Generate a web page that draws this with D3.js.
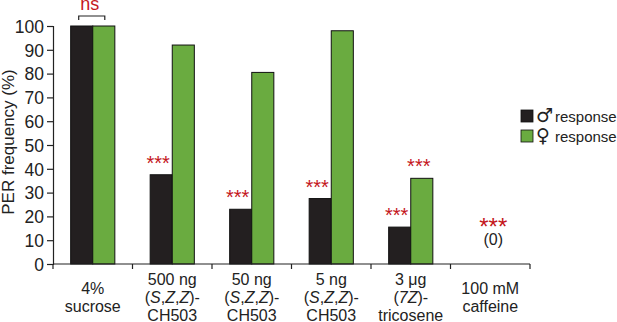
<!DOCTYPE html>
<html>
<head>
<meta charset="utf-8">
<script src="https://cdnjs.cloudflare.com/ajax/libs/d3/7.8.5/d3.min.js"></script>
<style>
  body { margin: 0; background: #fff; }
  svg { display: block; font-family: "Liberation Sans", Arial, sans-serif; }
</style>
</head>
<body>
<svg id="chart" width="617" height="322"></svg>
<script>
// underscores mark italic segments
var categories = ['sucrose', 'ch503_500', 'ch503_50', 'ch503_5', 'tricosene', 'caffeine'];
var categoryLabels = [
    ['4%', 'sucrose'],
    ['500 ng', '(_S_,_Z_,_Z_)-', 'CH503'],
    ['50 ng', '(_S_,_Z_,_Z_)-', 'CH503'],
    ['5 ng', '(_S_,_Z_,_Z_)-', 'CH503'],
    ['3 \u03bcg', '(_7Z_)-', 'tricosene'],
    ['100 mM', 'caffeine']
];
var seriesKeys = ['male', 'female'];
var seriesSymbols = ['\u2642', '\u2640'];
var seriesNames = ['response', 'response'];
var maleValues = [100, 37.5, 23, 27.5, 15.5, 0];
var femaleValues = [100, 92, 80.5, 98, 36, 0];
var maleStars = ['', '***', '***', '***', '***', ''];
var femaleStars = ['', '', '', '', '***', ''];
var yTicks = [0, 10, 20, 30, 40, 50, 60, 70, 80, 90, 100];

var colors = {male: '#231f20', female: '#6aab40'};
var red = '#c4161c';

var svg = d3.select('#chart');
var margin = {left: 53, right: 87, top: 26, bottom: 58};
var width = 617 - margin.left - margin.right;
var height = 322 - margin.top - margin.bottom;

var g = svg.append('g').attr('transform', 'translate(' + margin.left + ',' + margin.top + ')');

var x = d3.scaleBand().domain(categories).range([0, width]).padding(0);
var x1 = d3.scaleBand().domain(seriesKeys).range([0, x.bandwidth()]).paddingInner(0).paddingOuter(0.8);
var y = d3.scaleLinear().domain([0, 100]).range([height, 0]);

var rows = categories.map(function(c, i) {
    return {cat: c, male: maleValues[i], female: femaleValues[i],
        maleStars: maleStars[i], femaleStars: femaleStars[i]};
});

// bars
var groups = g.selectAll('.grp').data(rows).enter().append('g')
    .attr('class', 'grp')
    .attr('transform', function(d) { return 'translate(' + x(d.cat) + ',0)'; });

groups.selectAll('rect')
    .data(function(d) {
        return seriesKeys.map(function(k) { return {key: k, value: d[k]}; })
            .filter(function(e) { return e.value > 0; });
    })
    .enter().append('rect')
    .attr('x', function(d) { return x1(d.key); })
    .attr('y', function(d) { return y(d.value); })
    .attr('width', x1.bandwidth())
    .attr('height', function(d) { return y(0) - y(d.value); })
    .attr('fill', function(d) { return colors[d.key]; })
    .attr('stroke', '#111')
    .attr('stroke-width', 1);

// significance stars
groups.selectAll('.star')
    .data(function(d) {
        return seriesKeys.map(function(k) { return {key: k, value: d[k], stars: d[k + 'Stars']}; })
            .filter(function(e) { return e.stars; });
    })
    .enter().append('text')
    .attr('class', 'star')
    .attr('x', function(d) { return x1(d.key) + x1.bandwidth() / 2 - 3; })
    .attr('y', function(d) { return y(d.value) - 5; })
    .attr('text-anchor', 'middle')
    .attr('fill', red)
    .style('font-size', '20px')
    .text(function(d) { return d.stars; });

// caffeine: zero response
var cafX = x('caffeine') + x.bandwidth() / 2 + 3;
g.append('text').attr('x', cafX).attr('y', 209).attr('text-anchor', 'middle')
    .attr('fill', red).style('font-size', '24px').text('***');
g.append('text').attr('x', cafX).attr('y', 219).attr('text-anchor', 'middle')
    .attr('fill', '#222').style('font-size', '16px').text('(0)');

// ns bracket over sucrose
var bx0 = x('sucrose') + x1('male') + x1.bandwidth() / 2 - 3;
var bx1 = x('sucrose') + x1('female') + x1.bandwidth() / 2 + 1;
g.append('path')
    .attr('d', 'M' + bx0 + ',' + (y(100) - 6) + 'V' + (y(100) - 10) + 'H' + bx1 + 'V' + (y(100) - 6))
    .attr('fill', 'none').attr('stroke', '#222').attr('stroke-width', 1.2);
g.append('text').attr('x', (bx0 + bx1) / 2 - 2).attr('y', y(100) - 16)
    .attr('text-anchor', 'middle').attr('fill', red).style('font-size', '18px').text('ns');

// y axis
var yAxis = g.append('g').call(d3.axisLeft(y).tickValues(yTicks).tickSize(6).tickPadding(3));
yAxis.select('.domain').attr('stroke', '#222').attr('stroke-width', 1.2);
yAxis.selectAll('.tick line').attr('stroke', '#222').attr('stroke-width', 1.2);
yAxis.selectAll('.tick text').attr('fill', '#222').attr('dy', '0.36em')
    .style('font-size', '17.5px').style('font-family', '"Liberation Sans", Arial, sans-serif');

// x axis
var xAxisG = g.append('g').attr('transform', 'translate(0,' + height + ')');
xAxisG.append('line').attr('x1', 0).attr('x2', width)
    .attr('stroke', '#222').attr('stroke-width', 1.2);
xAxisG.selectAll('.xt').data(categories.concat(['end'])).enter().append('line')
    .attr('class', 'xt')
    .attr('x1', function(d) { return d === 'end' ? width : x(d); })
    .attr('x2', function(d) { return d === 'end' ? width : x(d); })
    .attr('y1', 0).attr('y2', 5)
    .attr('stroke', '#222').attr('stroke-width', 1.2);

// category labels
var lineH = 18;
categoryLabels.forEach(function(lines, i) {
    var cx = x(categories[i]) + x.bandwidth() / 2;
    var first = 39 - (lines.length - 1) / 2 * lineH;
    lines.forEach(function(line, j) {
        var t = xAxisG.append('text')
            .attr('x', cx).attr('y', first + j * lineH)
            .attr('text-anchor', 'middle').attr('fill', '#222')
            .style('font-size', '16px');
        line.split('_').forEach(function(seg, k) {
            if (!seg) return;
            t.append('tspan').style('font-style', k % 2 ? 'italic' : 'normal').text(seg);
        });
    });
});

// y title
svg.append('text')
    .attr('transform', 'translate(14,142) rotate(-90)')
    .attr('text-anchor', 'middle').attr('fill', '#222')
    .style('font-size', '17px')
    .text('PER frequency (%)');

// legend
var legend = svg.append('g').attr('transform', 'translate(521,110)');
seriesKeys.forEach(function(k, i) {
    legend.append('rect').attr('x', 0).attr('y', i * 20).attr('width', 12).attr('height', 12)
        .attr('fill', colors[k]).attr('stroke', '#111').attr('stroke-width', 0.8);
    legend.append('text').attr('x', 15).attr('y', i * 20 + 12)
        .attr('fill', '#222').style('font-size', '19px').style('font-family', '"DejaVu Sans", sans-serif')
        .text(seriesSymbols[i]);
    legend.append('text').attr('x', 34).attr('y', i * 20 + 11.5)
        .attr('fill', '#222').style('font-size', '15px').text(seriesNames[i]);
});
</script>
</body>
</html>
